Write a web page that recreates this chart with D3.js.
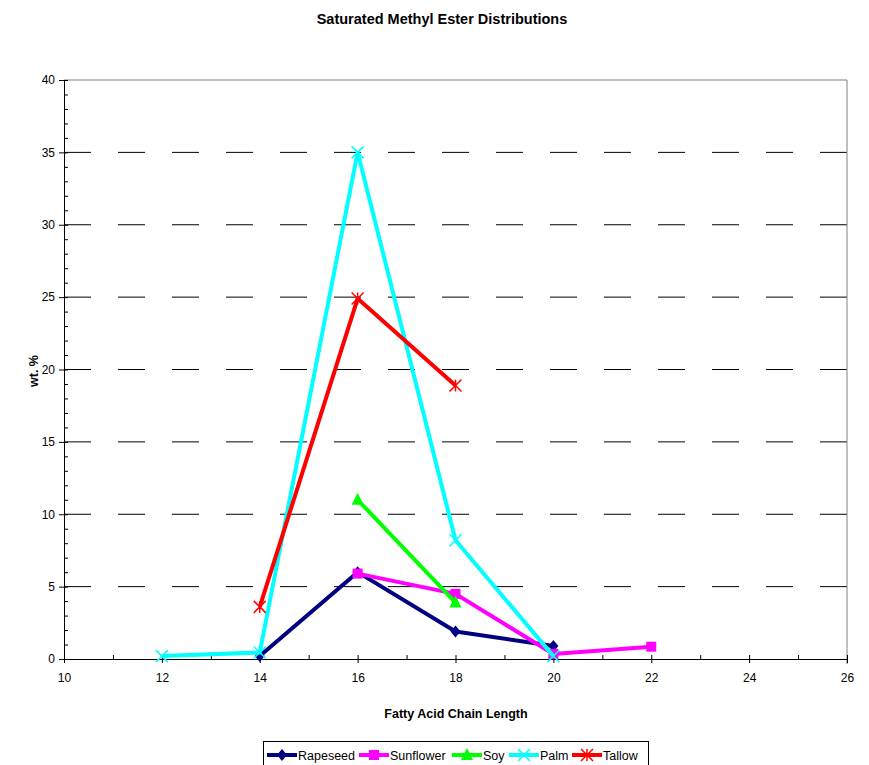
<!DOCTYPE html>
<html>
<head>
  <meta charset="utf-8">
  <title>Saturated Methyl Ester Distributions</title>
  <script src="https://d3js.org/d3.v7.min.js"></script>
  <style>
    body { margin: 0; background: #fff; font-family: "Liberation Sans", Arial, sans-serif; }
    svg text { font-family: "Liberation Sans", Arial, sans-serif; }
  </style>
</head>
<body>
<div id="chart"></div>
<script>
  // chart data
  var seriesNames = ["Rapeseed", "Sunflower", "Soy", "Palm", "Tallow"];
  var seriesColors = ["#000080", "#ff00ff", "#00ff00", "#00ffff", "#ff0000"];
  var seriesShapes = ["diamond", "square", "triangle", "cross", "star"];
  var rapeseed = [[14, 0.2], [16, 6.0], [18, 1.9], [20, 0.9]];
  var sunflower = [[16, 5.9], [18, 4.5], [20, 0.35], [22, 0.85]];
  var soy = [[16, 11.0], [18, 3.9]];
  var palm = [[12, 0.2], [14, 0.45], [16, 35.0], [18, 8.2], [20, 0.2]];
  var tallow = [[14, 3.6], [16, 24.9], [18, 18.9]];
  var xTicks = [10, 12, 14, 16, 18, 20, 22, 24, 26];
  var yTicks = [0, 5, 10, 15, 20, 25, 30, 35, 40];

  var allSeries = [rapeseed, sunflower, soy, palm, tallow];

  var w = 869, h = 765;
  var pLeft = 64, pRight = 847, pTop = 80, pBottom = 659;

  var svg = d3.select("#chart").append("svg")
    .attr("width", w)
    .attr("height", h);

  var x = d3.scaleLinear().domain([10, 26]).range([pLeft, pRight]);
  var y = d3.scaleLinear().domain([0, 40]).range([pBottom, pTop]);

  // title
  svg.append("text")
    .attr("x", 442).attr("y", 24)
    .attr("text-anchor", "middle")
    .style("font-size", "14.5px").style("font-weight", "bold")
    .text("Saturated Methyl Ester Distributions");

  // gridlines (dashed)
  svg.selectAll(".grid")
    .data(yTicks.filter(function(d) { return d > 0 && d < 40; }))
    .enter().append("line")
    .attr("x1", pLeft).attr("x2", pRight)
    .attr("y1", function(d) { return y(d); })
    .attr("y2", function(d) { return y(d); })
    .attr("stroke", "#000")
    .attr("stroke-width", 1)
    .attr("stroke-dasharray", "27,27");

  // plot border top and right
  svg.append("line").attr("x1", pLeft).attr("x2", pRight).attr("y1", pTop).attr("y2", pTop)
    .attr("stroke", "#808080").attr("stroke-width", 1);
  svg.append("line").attr("x1", pRight).attr("x2", pRight).attr("y1", pTop).attr("y2", pBottom + 5)
    .attr("stroke", "#808080").attr("stroke-width", 1);

  // y axis
  var yAxis = d3.axisLeft(y).tickValues(yTicks).tickSize(5).tickPadding(4);
  var gy = svg.append("g").attr("transform", "translate(" + pLeft + ",0)").call(yAxis);
  gy.select(".domain").attr("stroke", "#000");
  gy.selectAll("text").style("font-size", "12px");
  var yMinor = d3.axisRight(y).tickValues(d3.range(0, 41)).tickSize(4).tickFormat("");
  var gyMinor = svg.append("g").attr("transform", "translate(" + pLeft + ",0)").call(yMinor);
  gyMinor.select(".domain").remove();

  // x axis
  var xAxis = d3.axisBottom(x).tickValues(xTicks).tickSize(4).tickPadding(10);
  var gx = svg.append("g").attr("transform", "translate(0," + pBottom + ")").call(xAxis);
  gx.select(".domain").attr("stroke", "#000");
  gx.selectAll("text").style("font-size", "12px");
  var xMinor = d3.axisTop(x).tickValues(d3.range(10, 27)).tickSize(4).tickFormat("");
  var gxMinor = svg.append("g").attr("transform", "translate(0," + pBottom + ")").call(xMinor);
  gxMinor.select(".domain").remove();

  // axis titles
  svg.append("text")
    .attr("x", 456).attr("y", 718)
    .attr("text-anchor", "middle")
    .style("font-size", "12.5px").style("font-weight", "bold")
    .text("Fatty Acid Chain Length");
  svg.append("text")
    .attr("transform", "translate(38,371) rotate(-90)")
    .attr("text-anchor", "middle")
    .style("font-size", "12.5px").style("font-weight", "bold")
    .text("wt. %");

  // marker drawing
  function drawMarker(g, shape, color, cx, cy) {
    if (shape == "diamond") {
      g.append("path").attr("d", "M" + cx + "," + (cy - 6) + "L" + (cx + 5) + "," + cy + "L" + cx + "," + (cy + 6) + "L" + (cx - 5) + "," + cy + "Z")
        .attr("fill", color);
    } else if (shape == "square") {
      g.append("rect").attr("x", cx - 5).attr("y", cy - 5).attr("width", 10).attr("height", 10).attr("fill", color);
    } else if (shape == "triangle") {
      g.append("path").attr("d", "M" + cx + "," + (cy - 7) + "L" + (cx + 6) + "," + (cy + 5) + "L" + (cx - 6) + "," + (cy + 5) + "Z")
        .attr("fill", color);
    } else if (shape == "cross") {
      g.append("path").attr("d", "M" + (cx - 6) + "," + (cy - 6) + "L" + (cx + 6) + "," + (cy + 6) + "M" + (cx + 6) + "," + (cy - 6) + "L" + (cx - 6) + "," + (cy + 6))
        .attr("stroke", color).attr("stroke-width", 1.5).attr("fill", "none");
    } else {
      g.append("path").attr("d", "M" + (cx - 6) + "," + (cy - 6) + "L" + (cx + 6) + "," + (cy + 6) + "M" + (cx + 6) + "," + (cy - 6) + "L" + (cx - 6) + "," + (cy + 6) + "M" + cx + "," + (cy - 6) + "L" + cx + "," + (cy + 6))
        .attr("stroke", color).attr("stroke-width", 1.5).attr("fill", "none");
    }
  }

  var line = d3.line()
    .x(function(d) { return x(d[0]); })
    .y(function(d) { return y(d[1]); });

  allSeries.forEach(function(data, i) {
    var g = svg.append("g");
    g.append("path")
      .datum(data)
      .attr("d", line)
      .attr("fill", "none")
      .attr("stroke", seriesColors[i])
      .attr("stroke-width", 4)
      .attr("stroke-linejoin", "round");
    data.forEach(function(d) {
      drawMarker(g, seriesShapes[i], seriesColors[i], x(d[0]), y(d[1]));
    });
  });

  // legend
  var legend = svg.append("g");
  legend.append("rect")
    .attr("x", 263.5).attr("y", 741.5).attr("width", 385).attr("height", 30)
    .attr("fill", "#fff").attr("stroke", "#000").attr("stroke-width", 1);
  var legendX = [267, 359, 452, 509, 572];
  seriesNames.forEach(function(name, i) {
    var lx = legendX[i];
    legend.append("line")
      .attr("x1", lx).attr("x2", lx + 30).attr("y1", 755).attr("y2", 755)
      .attr("stroke", seriesColors[i]).attr("stroke-width", 4);
    drawMarker(legend, seriesShapes[i], seriesColors[i], lx + 15, 755);
    legend.append("text")
      .attr("x", lx + 31).attr("y", 760)
      .style("font-size", "12.5px")
      .text(name);
  });
</script>
</body>
</html>
